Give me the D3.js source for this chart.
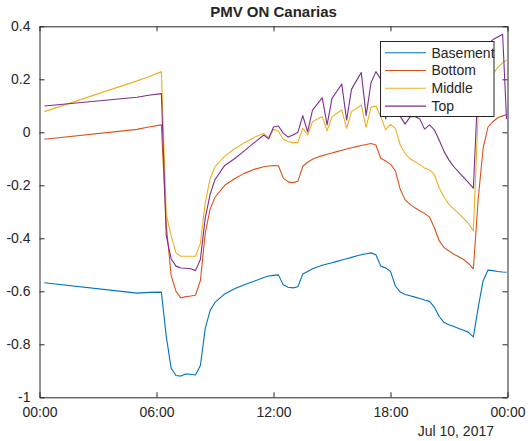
<!DOCTYPE html>
<html>
<head>
<meta charset="utf-8">
<script src="https://cdn.jsdelivr.net/npm/d3@7"></script>
<style>
	body{margin:0;background:#fff;}
	svg text{font-family:"Liberation Sans",Arial,sans-serif;fill:#262626;}
</style>
</head>
<body>
<div id="result"></div>
<script>
var day = "2017-07-10";
var times = [
	"00:15","05:00","05:36","06:15","06:30","06:45","07:00","07:15","07:30","07:45",
	"08:00","08:15","08:30","08:45","09:00","09:30","10:00","10:30","11:00","11:30",
	"11:45","12:00","12:15","12:30","12:45","13:00","13:15","13:30","13:45","14:00",
	"14:15","14:30","14:45","15:00","15:15","15:30","15:45","16:00","16:15","16:30",
	"16:45","17:00","17:15","17:30","17:45","18:00","18:15","18:30","18:45","19:00",
	"19:15","19:30","19:45","20:00","20:15","20:30","20:45","21:00","21:15","21:30",
	"21:45","22:00","22:15","22:30","22:45","23:00","23:15","23:30","23:45","23:57"
];
var seriesNames = ["Basement","Bottom","Middle","Top"];
var basement = [
	-0.568,-0.607,-0.604,-0.603,-0.77,-0.89,-0.918,-0.92,-0.912,-0.913,
	-0.916,-0.88,-0.74,-0.672,-0.642,-0.61,-0.59,-0.575,-0.562,-0.548,
	-0.542,-0.54,-0.538,-0.575,-0.585,-0.587,-0.583,-0.535,-0.525,-0.515,
	-0.508,-0.502,-0.497,-0.492,-0.487,-0.482,-0.477,-0.472,-0.467,-0.462,
	-0.458,-0.455,-0.462,-0.505,-0.512,-0.525,-0.58,-0.603,-0.612,-0.617,
	-0.622,-0.627,-0.633,-0.638,-0.66,-0.695,-0.718,-0.726,-0.733,-0.74,
	-0.747,-0.755,-0.772,-0.66,-0.56,-0.52,-0.522,-0.525,-0.527,-0.528
];
var bottom = [
	-0.026,0.011,0.02,0.028,-0.35,-0.54,-0.6,-0.625,-0.62,-0.618,
	-0.615,-0.56,-0.38,-0.29,-0.245,-0.2,-0.175,-0.155,-0.14,-0.13,
	-0.127,-0.125,-0.126,-0.172,-0.187,-0.19,-0.185,-0.128,-0.113,-0.102,
	-0.094,-0.088,-0.083,-0.078,-0.073,-0.068,-0.063,-0.058,-0.054,-0.05,
	-0.046,-0.042,-0.048,-0.098,-0.108,-0.12,-0.145,-0.215,-0.255,-0.272,
	-0.285,-0.296,-0.306,-0.32,-0.36,-0.41,-0.435,-0.448,-0.46,-0.47,
	-0.48,-0.495,-0.515,-0.25,-0.06,0.02,0.04,0.055,0.062,0.066
];
var middle = [
	0.078,0.194,0.21,0.229,-0.31,-0.39,-0.455,-0.468,-0.468,-0.468,
	-0.468,-0.42,-0.265,-0.175,-0.13,-0.09,-0.062,-0.04,-0.02,-0.004,
	-0.02,0.011,0.005,-0.026,-0.035,-0.04,-0.038,0.015,-0.01,0.04,
	0.05,0.059,0.006,0.059,0.072,0.084,0.015,0.078,0.09,0.103,
	0.019,0.094,0.099,0.06,0.009,0.03,0.015,-0.048,-0.08,-0.1,
	-0.11,-0.122,-0.135,-0.142,-0.16,-0.21,-0.245,-0.272,-0.29,-0.306,
	-0.325,-0.345,-0.372,0.08,0.16,0.19,0.22,0.245,0.262,0.272
];
var top_ = [
	0.099,0.132,0.14,0.146,-0.39,-0.477,-0.505,-0.512,-0.513,-0.515,
	-0.522,-0.48,-0.323,-0.234,-0.178,-0.125,-0.1,-0.07,-0.04,-0.01,
	-0.025,0.02,0.024,-0.003,-0.018,-0.01,0.0,0.063,0.002,0.084,
	0.107,0.13,0.028,0.128,0.155,0.182,0.046,0.162,0.194,0.226,
	0.063,0.187,0.229,0.2,0.05,0.15,0.1,0.06,0.031,0.058,
	0.06,0.05,0.012,0.028,0.009,-0.03,-0.073,-0.105,-0.13,-0.15,
	-0.17,-0.19,-0.211,0.2,0.3,0.33,0.35,0.36,0.37,0.05
];
var yTicks = [0.4,0.2,0,-0.2,-0.4,-0.6,-0.8,-1];
var colors = ["#0072BD","#D95319","#EDB120","#7E2F8E"];

(function(){
	'use strict';

	var option = {
		"width":532,
		"height":441,
		"left":39.5,
		"right":507.5,
		"top":26.3,
		"bottom":397.3,
		"tick":5
	};

	var parse = d3.timeParse("%Y-%m-%d %H:%M");
	var t0 = parse(day+" 00:00");
	var t1 = d3.timeDay.offset(t0,1);
	var dates = times.map(function(s){return parse(day+" "+s);});
	var values = [basement,bottom,middle,top_];

	var x = d3.scaleTime().domain([t0,t1]).range([option.left,option.right]);
	var y = d3.scaleLinear().domain([-1,0.4]).range([option.bottom,option.top]);

	var svg = d3.select("#result")
		.append("svg")
		.attr("width",option.width)
		.attr("height",option.height);

	svg.append("clipPath").attr("id","plotclip")
		.append("rect")
		.attr("x",option.left).attr("y",option.top)
		.attr("width",option.right-option.left)
		.attr("height",option.bottom-option.top);

	var xTicks = d3.timeHour.every(6).range(t0,d3.timeMinute.offset(t1,1));
	var fmtY = function(d){return d3.format("")(+d.toFixed(1)).replace("\u2212","-");};

	// axes: ticks inside, mirrored on top/right
	var xAxisB = d3.axisBottom(x).tickValues(xTicks).tickSizeInner(-option.tick).tickSizeOuter(0)
		.tickPadding(10).tickFormat(d3.timeFormat("%H:%M"));
	var xAxisT = d3.axisTop(x).tickValues(xTicks).tickSizeInner(-option.tick).tickSizeOuter(0).tickFormat("");
	var yAxisL = d3.axisLeft(y).tickValues(yTicks).tickSizeInner(-option.tick).tickSizeOuter(0)
		.tickPadding(9).tickFormat(fmtY);
	var yAxisR = d3.axisRight(y).tickValues(yTicks).tickSizeInner(-option.tick).tickSizeOuter(0).tickFormat("");

	var gx = svg.append("g").attr("transform","translate(0,"+option.bottom+")").call(xAxisB);
	svg.append("g").attr("transform","translate(0,"+option.top+")").call(xAxisT);
	var gy = svg.append("g").attr("transform","translate("+option.left+",0)").call(yAxisL);
	svg.append("g").attr("transform","translate("+option.right+",0)").call(yAxisR);

	svg.selectAll(".domain").attr("stroke","#262626").attr("stroke-width",1);
	svg.selectAll(".tick line").attr("stroke","#262626").attr("stroke-width",1);
	svg.selectAll(".tick text").attr("font-size",14).attr("font-family",null).attr("fill","#262626");
	gx.selectAll(".tick text").attr("dy","0.71em");

	svg.append("text")
		.attr("x",494).attr("y",436)
		.attr("text-anchor","end")
		.attr("font-size",14)
		.text("Jul 10, 2017");

	svg.append("text")
		.attr("x",(option.left+option.right)/2).attr("y",17)
		.attr("text-anchor","middle")
		.attr("font-size",15)
		.attr("font-weight","bold")
		.attr("fill","#000")
		.text("PMV ON Canarias");

	var line = d3.line()
		.x(function(d){return x(d.t);})
		.y(function(d){return y(d.v);});

	var plot = svg.append("g").attr("clip-path","url(#plotclip)");
	values.forEach(function(vals,k){
		var pts = vals.map(function(v,i){return {"t":dates[i],"v":v};});
		plot.append("path")
			.datum(pts)
			.attr("fill","none")
			.attr("stroke",colors[k])
			.attr("stroke-width",1.1)
			.attr("stroke-linejoin","round")
			.attr("d",line);
	});

	// legend
	var lg = svg.append("g").attr("transform","translate(380.5,41.5)");
	lg.append("rect")
		.attr("width",113.5).attr("height",75)
		.attr("fill","#fff")
		.attr("stroke","#262626")
		.attr("stroke-width",1);
	seriesNames.forEach(function(name,k){
		var cy = 11.2 + k*17.8;
		lg.append("line")
			.attr("x1",4.5).attr("x2",45.5)
			.attr("y1",cy).attr("y2",cy)
			.attr("stroke",colors[k])
			.attr("stroke-width",1.1);
		lg.append("text")
			.attr("x",51).attr("y",cy)
			.attr("dy","0.35em")
			.attr("font-size",14)
			.text(name);
	});
})();
</script>
</body>
</html>
